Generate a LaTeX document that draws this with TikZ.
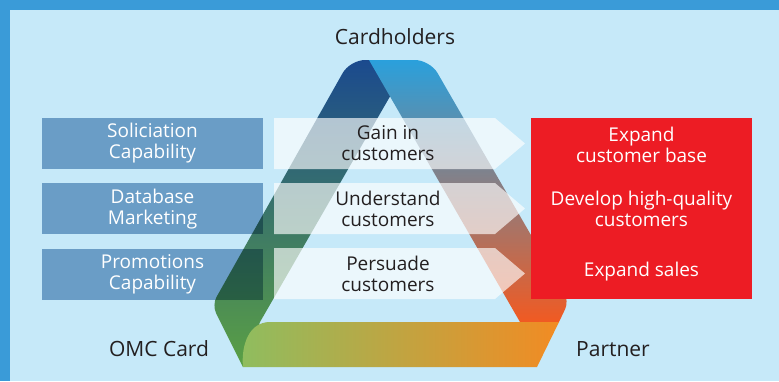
\documentclass[tikz,border=0pt]{standalone}
\usepackage{fontspec}
\setmainfont{Open Sans}
\usetikzlibrary{positioning}
\definecolor{omcframe}{HTML}{3A9BD8}
\definecolor{omcsky}{HTML}{C6E9F9}
\definecolor{omcbox}{HTML}{89ACCB}
\definecolor{omcred}{HTML}{ED1C24}
\definecolor{omcink}{HTML}{231F20}
\definecolor{legnavy}{HTML}{1B4A8E}
\definecolor{legteal}{HTML}{3C7F58}
\definecolor{leggreen}{HTML}{5AA044}
\definecolor{legblue}{HTML}{2AA0DC}
\definecolor{legorange}{HTML}{F15A22}
\definecolor{bandgreen}{HTML}{8FBD5F}
\definecolor{bandgold}{HTML}{C4A748}
\definecolor{bandorange}{HTML}{F28B23}

\begin{document}
\begin{tikzpicture}[x=1pt,y=-1pt,
  node distance=14pt,
  capbox/.style={fill=omcbox,minimum width=221pt,minimum height=51pt,inner sep=0pt},
  captext/.style={text=white,align=center,font=\fontsize{19}{21}\selectfont},
  palearrow/.style={fill=white,fill opacity=0.65},
  gaintext/.style={text=omcink,align=center,font=\fontsize{19}{21}\selectfont},
  goalbox/.style={fill=omcred,minimum width=221pt,minimum height=181pt,inner sep=0pt},
  goal/.style={text=white,align=center,font=\fontsize{19}{21}\selectfont},
  corner/.style={text=omcink,font=\fontsize{21}{24}\selectfont}
]
\useasboundingbox (0,0) rectangle (779,381);
\fill[omcframe] (0,0) rectangle (779,381);
\fill[omcsky] (10,10) rectangle (779,381);

% the folded ribbon: left leg, right leg, bottom band
\shade[top color=legnavy,middle color=legteal,bottom color=leggreen] (411,60) -- (260,322) -- (243,367) [rounded corners=9pt] -- (212,305) [rounded corners=15pt] -- (350,60) [sharp corners] -- cycle;
\shade[top color=legblue,bottom color=legorange] (369,60) [rounded corners=15pt] -- (430,60) [rounded corners=9pt] -- (569,301) [sharp corners] -- (559,322) -- (520,322) -- cycle;
\shade[left color=bandgreen,middle color=bandgold,right color=bandorange] (243,367) .. controls (241,345) and (249,322) .. (270,322) -- (559,322) -- (537,367) -- cycle;

\begin{scope}[blend mode=multiply]
\node[capbox] (solicit) at (152.5,143.5) {};
\node[capbox,below=of solicit] (dbmarket) {};
\node[capbox,below=of dbmarket] (promo) {};
\end{scope}
\node[captext] (solicittext) at (solicit) {Soliciation\\Capability};
\node[captext] (dbmarkettext) at (dbmarket) {Database\\Marketing};
\node[captext] (promotext) at (promo) {Promotions\\Capability};

% pale arrows across the ribbon
\foreach \y in {118,183,248}
  \fill[palearrow] (274,\y) -- (495,\y) -- (525,\y+25.5) -- (495,\y+51) -- (274,\y+51) -- cycle;
\node[gaintext] (gain) at (388,143.5) {Gain in\\customers};
\node[gaintext] (understand) at (388,208.5) {Understand\\customers};
\node[gaintext] (persuade) at (388,273.5) {Persuade\\customers};

\node[goalbox] (goals) at (641.5,208.5) {};
\node[goal] (base) at (641.5,145) {Expand\\customer base};
\node[goal] (quality) at (641.5,209) {Develop high-quality\\customers};
\node[goal] (sales) at (641.5,272) {Expand sales};

\node[corner] (cardholders) at (395,37) {Cardholders};
\node[corner] (omc) at (159,349) {OMC Card};
\node[corner] (partner) at (613,349) {Partner};
\end{tikzpicture}
\end{document}
